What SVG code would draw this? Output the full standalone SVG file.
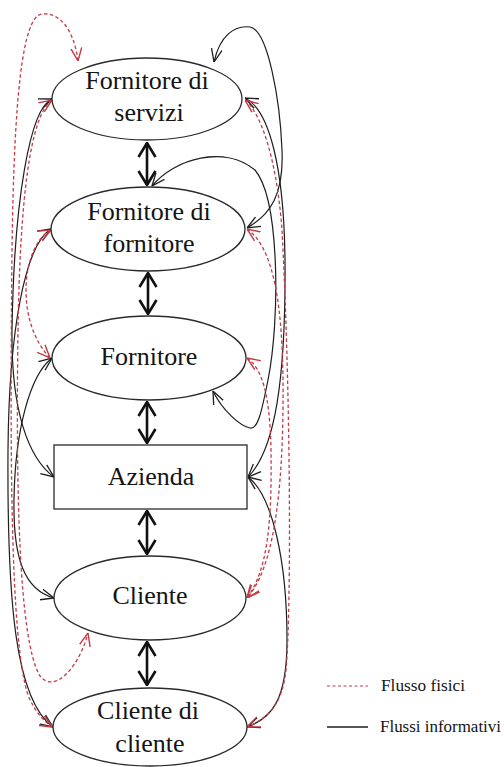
<svg xmlns="http://www.w3.org/2000/svg" width="504" height="767" viewBox="0 0 504 767">
  <style>
    .node { fill: #ffffff; stroke: #2a2a2a; stroke-width: 1.3; }
    .label { font-family: "Liberation Serif", "Times New Roman", serif; font-size: 26px; fill: #141414; text-anchor: middle; }
    .legend { font-family: "Liberation Serif", "Times New Roman", serif; font-size: 16px; fill: #141414; }
    .info { fill: none; stroke: #1e1e1e; stroke-width: 1.2; marker-start: url(#ab); marker-end: url(#ab); }
    .phys { fill: none; stroke: #c43a45; stroke-width: 1.3; stroke-dasharray: 3.5 2.5; marker-start: url(#ar); marker-end: url(#ar); }
    .link { fill: none; stroke: #111; stroke-width: 2.6; marker-start: url(#ad); marker-end: url(#ad); }
  </style>
  <defs>
    <marker id="ab" viewBox="0 0 12 12" refX="12" refY="6" markerWidth="13" markerHeight="13" markerUnits="userSpaceOnUse" orient="auto-start-reverse">
      <path d="M0,1 L12,6 L0,11" fill="none" stroke="#1e1e1e" stroke-width="1.2"/>
    </marker>
    <marker id="ar" viewBox="0 0 12 12" refX="12" refY="6" markerWidth="13" markerHeight="13" markerUnits="userSpaceOnUse" orient="auto-start-reverse">
      <path d="M0,1 L12,6 L0,11" fill="none" stroke="#c43a45" stroke-width="1.3"/>
    </marker>
    <marker id="ad" viewBox="0 0 16 20" refX="15" refY="10" markerWidth="16" markerHeight="20" markerUnits="userSpaceOnUse" orient="auto-start-reverse">
      <path d="M1,1.5 L15,10 L1,18.5" fill="none" stroke="#111" stroke-width="2.6"/>
    </marker>
  </defs>

  <!-- flows between the nodes -->
  <g id="connectors">
    <!-- chain of two-way links -->
    <line class="link" x1="147" y1="143" x2="147" y2="185"/>
    <line class="link" x1="148" y1="273" x2="148" y2="314"/>
    <line class="link" x1="147" y1="402" x2="147" y2="443"/>
    <line class="link" x1="147" y1="511" x2="147" y2="554"/>
    <line class="link" x1="147" y1="642" x2="147" y2="685"/>

    <!-- information flows, left side -->
    <path class="info" d="M52 99 C30 108, 14 200, 12 330 C11 410, 28 458, 54 477"/>
    <path class="info" d="M51 229 C25 245, 9 330, 8 450 C7 600, 15 700, 53 727"/>
    <path class="info" d="M52 358 C30 375, 15 430, 14 500 C13 560, 25 590, 54 598"/>

    <!-- information flows, right side -->
    <path class="info" d="M214 62 C220 35, 235 25, 250 27 C268 30, 280 100, 282 150 C284 195, 270 215, 247 228"/>
    <path class="info" d="M245 98 C270 110, 284 170, 285 260 C286 380, 275 450, 248 477"/>
    <path class="info" d="M152 186 C175 158, 225 145, 255 170 C280 200, 280 320, 268 380 C262 410, 258 430, 250 428 C240 426, 222 410, 213 391"/>
    <path class="info" d="M248 477 C272 495, 287 560, 287 640 C287 700, 272 718, 247 727"/>

    <!-- physical flows, left side -->
    <path class="phys" d="M78 61 C74 30, 60 12, 42 14 C22 16, 14 100, 12 250 C10 450, 10 640, 28 695 C35 712, 44 722, 53 727"/>
    <path class="phys" d="M52 100 C30 115, 20 200, 18 330 C16 480, 18 640, 40 676 C55 695, 80 665, 88 633"/>
    <path class="phys" d="M51 230 C22 245, 14 320, 50 358"/>

    <!-- physical flows, right side -->
    <path class="phys" d="M245 100 C258 110, 276 150, 282 230 C290 380, 292 600, 286 670 C282 705, 268 718, 247 727"/>
    <path class="phys" d="M247 229 C270 245, 282 290, 283 380 C284 500, 272 570, 247 598"/>
    <path class="phys" d="M247 358 C262 368, 270 395, 271 450 C272 520, 268 570, 247 598"/>
  </g>

  <g id="fornitore-servizi">
    <ellipse class="node" cx="147" cy="99" rx="95" ry="41"/>
    <text class="label" x="147" y="89">Fornitore di</text>
    <text class="label" x="149" y="121">servizi</text>
  </g>

  <g id="fornitore-fornitore">
    <ellipse class="node" cx="148" cy="229" rx="97" ry="42"/>
    <text class="label" x="149" y="220">Fornitore di</text>
    <text class="label" x="149" y="252">fornitore</text>
  </g>

  <g id="fornitore">
    <ellipse class="node" cx="149" cy="358" rx="97" ry="42"/>
    <text class="label" x="149" y="365">Fornitore</text>
  </g>

  <g id="azienda">
    <rect class="node" x="54" y="445" width="193" height="64"/>
    <text class="label" x="151" y="485">Azienda</text>
  </g>

  <g id="cliente">
    <ellipse class="node" cx="150" cy="598" rx="96" ry="42"/>
    <text class="label" x="150" y="604">Cliente</text>
  </g>

  <g id="cliente-cliente">
    <ellipse class="node" cx="150" cy="727" rx="97" ry="39"/>
    <text class="label" x="148" y="719">Cliente di</text>
    <text class="label" x="150" y="752">cliente</text>
  </g>

  <g id="legenda">
    <line x1="327" y1="686" x2="368" y2="686" stroke="#c43a45" stroke-width="1.2" stroke-dasharray="3 2.5"/>
    <text class="legend" x="381" y="691" textLength="84" lengthAdjust="spacingAndGlyphs">Flusso fisici</text>
    <line x1="327" y1="727" x2="368" y2="727" stroke="#1e1e1e" stroke-width="1.3"/>
    <text class="legend" x="380" y="732" textLength="121" lengthAdjust="spacingAndGlyphs">Flussi informativi</text>
  </g>
</svg>
